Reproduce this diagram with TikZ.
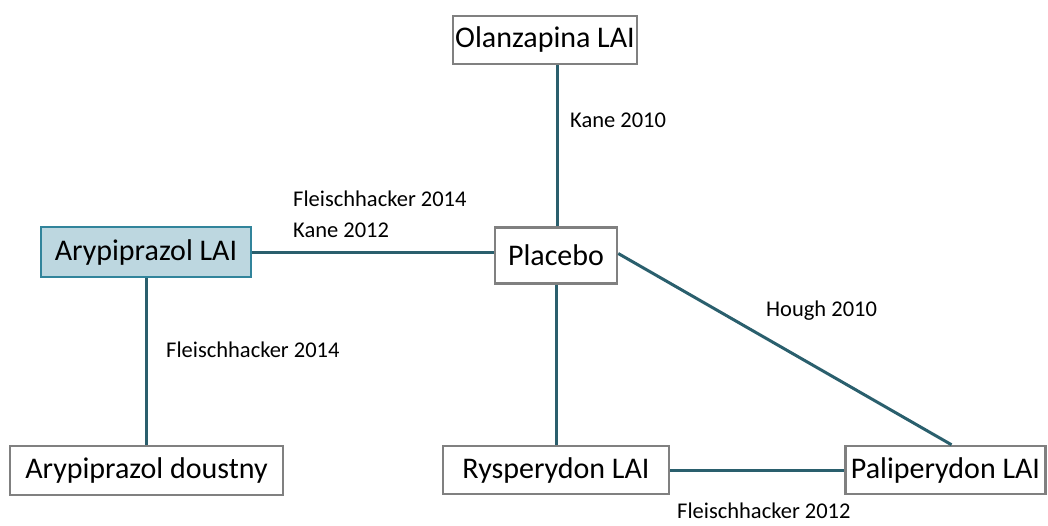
\documentclass[tikz,border=0pt]{standalone}
\usepackage{fontspec}
\setmainfont{Carlito}
\definecolor{conn}{HTML}{2A5F6D}
\definecolor{boxgray}{HTML}{808080}
\definecolor{hlfill}{HTML}{BDD7E0}
\definecolor{hldraw}{HTML}{31849B}
\tikzset{
  drug/.style={draw=boxgray, line width=2.5pt, fill=white, inner sep=0pt,
    font=\fontsize{30}{35}\selectfont},
  hl/.style={drug, draw=hldraw, fill=hlfill},
  conn/.style={draw=conn, line width=3pt},
  lbl/.style={anchor=base west, inner sep=0pt, font=\fontsize{22.5}{26}\selectfont}
}
\begin{document}
\begin{tikzpicture}[x=1pt,y=-1pt]
\useasboundingbox (0,0) rectangle (1048,525);
\node[drug, minimum width=184pt, minimum height=48pt] (olan) at (545,40) {Olanzapina LAI};
\node[drug, minimum width=122pt, minimum height=56pt] (plac) at (556,255.5) {Placebo};
\node[hl, minimum width=210pt, minimum height=50pt] (arlai) at (146,252) {Arypiprazol LAI};
\node[drug, minimum width=273pt, minimum height=49pt] (ardou) at (146.5,470.5) {Arypiprazol doustny};
\node[drug, minimum width=226pt, minimum height=48pt] (rysp) at (556,470) {Rysperydon LAI};
\node[drug, minimum width=200pt, minimum height=48pt] (palip) at (945.5,470) {Paliperydon LAI};
\draw[conn] (plac.north -| 557,0) coordinate (pn) -- (pn |- olan.south);
\draw[conn] (arlai.east) -- (arlai.east -| plac.west);
\draw[conn] (arlai.south) -- (arlai.south |- ardou.north);
\draw[conn] (plac.south) -- (rysp.north);
\draw[conn] ([yshift=2pt]plac.east) -- ([xshift=6pt]palip.north);
\draw[conn] (rysp.east) -- (palip.west);
\node[lbl] (l1) at (570,127) {Kane 2010};
\node[lbl] (l2) at (293,206) {Fleischhacker 2014};
\node[lbl] (l3) at (293,237) {Kane 2012};
\node[lbl] (l4) at (766,316) {Hough 2010};
\node[lbl] (l5) at (166,357) {Fleischhacker 2014};
\node[lbl] (l6) at (677,518) {Fleischhacker 2012};
\end{tikzpicture}
\end{document}
